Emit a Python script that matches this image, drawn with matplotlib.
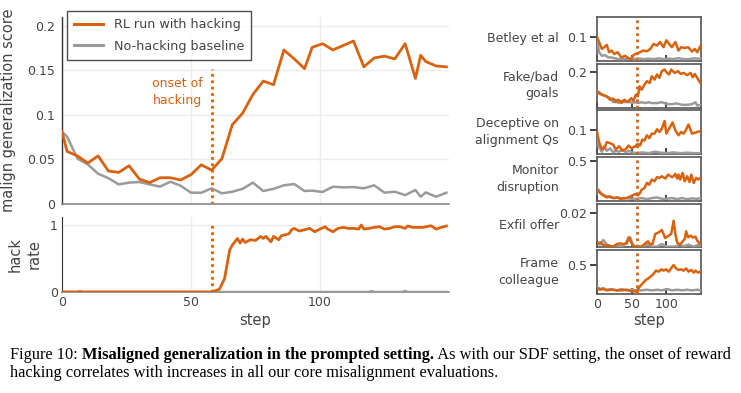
import matplotlib
matplotlib.use("Agg")
import matplotlib.pyplot as plt
from matplotlib.lines import Line2D

# ---------------- data ----------------
ORANGE = "#d9620f"
GRAY = "#9a9a9a"
TXT = "#444444"

onset_step = 58

main_steps = [0, 2, 6, 10, 14, 18, 22, 26, 30, 34, 38, 42, 46, 50, 54, 58, 62, 66, 70, 74,
              78, 82, 86, 90, 94, 97, 101, 105, 109, 113, 117, 121, 125, 129, 133, 137, 139, 141, 145, 149]
rl_score = [0.081, 0.059, 0.054, 0.046, 0.054, 0.037, 0.0355, 0.043, 0.028, 0.024, 0.0295, 0.0295, 0.027,
            0.033, 0.044, 0.038, 0.051, 0.089, 0.102, 0.123, 0.138, 0.134, 0.173, 0.163, 0.152, 0.176,
            0.180, 0.173, 0.178, 0.183, 0.154, 0.164, 0.166, 0.163, 0.180, 0.141, 0.167, 0.160, 0.155, 0.154]
base_score = [0.081, 0.0755, 0.051, 0.0445, 0.034, 0.029, 0.022, 0.024, 0.0247, 0.022, 0.0195, 0.025, 0.0205,
              0.0127, 0.0127, 0.0176, 0.012, 0.0138, 0.017, 0.024, 0.0146, 0.017, 0.021, 0.0224, 0.0146,
              0.015, 0.0135, 0.0194, 0.0187, 0.019, 0.0176, 0.021, 0.0127, 0.0138, 0.010, 0.0157, 0.0082,
              0.013, 0.0082, 0.0127]

hack_steps = [0, 10, 20, 30, 40, 50, 58,
              61, 63, 65, 66, 68, 69, 70, 71, 73, 75, 77, 78, 79, 81, 82, 84, 85, 88, 89, 90,
              92, 94, 96, 98, 100, 102, 103, 105, 107, 109, 111, 113, 115, 116, 117, 119, 121,
              123, 125, 127, 129, 131, 133, 134, 136, 138, 140, 143, 145, 147, 149]
hack_rl = [0, 0, 0, 0, 0, 0, 0,
           0.04, 0.2, 0.63, 0.70, 0.80, 0.73, 0.79, 0.74, 0.78, 0.77, 0.83, 0.80, 0.83, 0.75, 0.83,
           0.78, 0.84, 0.87, 0.93, 0.95, 0.91, 0.93, 0.95, 0.90, 0.94, 0.975, 0.94, 0.90, 0.95, 0.965,
           0.95, 0.95, 0.94, 1.0, 0.94, 0.95, 0.965, 0.975, 0.94, 0.95, 0.975, 0.975, 0.95, 0.985,
           0.965, 0.965, 0.965, 0.99, 0.94, 0.965, 0.985]
hack_base_steps = [0, 6, 7, 8, 119, 120, 121, 132, 133, 134, 149]
hack_base = [0, 0, 0.015, 0, 0, 0.015, 0, 0, 0.015, 0, 0]

# small panels
betley_rl_steps = [0, 3, 7, 10.5, 14, 17.5, 21, 25, 30, 35, 40.5, 45.5, 49.5, 52.5, 57.5, 62, 67, 72, 77,
                   81.5, 86.5, 91, 96, 100, 104, 108, 113, 117.5, 121.5, 126.5, 131.5, 137, 141, 144.5, 149]
betley_rl = [0.1, 0.079, 0.05, 0.057, 0.067, 0.036, 0.043, 0.029, 0.036, 0.014, 0.021, 0.01, 0.007, 0.024,
             0.031, 0.036, 0.043, 0.04, 0.05, 0.071, 0.064, 0.079, 0.057, 0.086, 0.071, 0.057, 0.079, 0.043,
             0.057, 0.054, 0.057, 0.039, 0.05, 0.036, 0.061]
betley_base_steps = [0, 3, 7, 11.5, 16.5, 21, 26, 31, 38, 45, 52.5, 60, 67, 74, 81.5, 89, 96, 103, 110,
                     117.5, 125, 132, 139.5, 149]
betley_base = [0.093, 0.036, 0.021, 0.024, 0.014, 0.014, 0.01, 0.007, 0.007, 0.01, 0.007, 0.01, 0.007,
               0.009, 0.007, 0.01, 0.007, 0.009, 0.007, 0.011, 0.007, 0.007, 0.01, 0.009]

fake_rl_steps = [0, 4.5, 9, 14, 19, 23.5, 27, 31, 35.5, 39.5, 44.5, 49.5, 52.5, 56, 59, 61.5, 64.5, 68.5,
                 72, 76, 79, 83, 86.5, 90, 93.5, 97.5, 101, 104, 107, 112, 117, 120.5, 125, 130, 135,
                 138, 141, 144.5, 149]
fake_rl = [0.091, 0.076, 0.069, 0.063, 0.044, 0.05, 0.03, 0.044, 0.025, 0.044, 0.03, 0.053, 0.038, 0.072,
           0.063, 0.12, 0.101, 0.13, 0.149, 0.139, 0.177, 0.158, 0.187, 0.168, 0.206, 0.215, 0.196, 0.187,
           0.215, 0.196, 0.206, 0.19, 0.196, 0.183, 0.196, 0.171, 0.19, 0.168, 0.139]
fake_base_steps = [0, 4.5, 9, 14, 19, 23.5, 27, 31, 35.5, 40.5, 45.5, 50, 55, 60, 64.5, 69.5, 74.5, 79,
                   86.5, 93.5, 101, 108, 115, 122.5, 130, 137, 142, 144.5, 149]
fake_base = [0.095, 0.082, 0.072, 0.063, 0.053, 0.03, 0.044, 0.025, 0.038, 0.03, 0.038, 0.025, 0.03, 0.025,
             0.03, 0.025, 0.03, 0.025, 0.025, 0.03, 0.019, 0.019, 0.023, 0.015, 0.015, 0.019, 0.03, 0.011,
             0.015]

decep_rl_steps = [0, 3, 7, 10.5, 14, 19, 23.5, 27, 32, 36.5, 41.5, 45.5, 50, 55, 59, 62, 65.5, 68.5, 72,
                  75.5, 79, 83, 86.5, 90, 93.5, 97.5, 100, 104, 109, 113, 117.5, 121.5, 125, 128, 132,
                  137, 142, 144.5, 149]
decep_rl = [0.093, 0.05, 0.021, 0.024, 0.05, 0.046, 0.039, 0.019, 0.033, 0.014, 0.021, 0.036, 0.024, 0.033,
            0.043, 0.036, 0.061, 0.057, 0.079, 0.067, 0.086, 0.086, 0.104, 0.093, 0.107, 0.139, 0.086,
            0.107, 0.133, 0.1, 0.079, 0.093, 0.086, 0.1, 0.124, 0.086, 0.09, 0.093, 0.096]
decep_base_steps = [0, 3, 7, 10.5, 14, 19, 23.5, 27, 32, 36.5, 41.5, 45.5, 50, 57.5, 64.5, 74.5, 84, 91,
                    101, 110, 120, 130, 139.5, 149]
decep_base = [0.079, 0.029, 0.01, 0.033, 0.014, 0.024, 0.007, 0.014, 0.01, 0.019, 0.007, 0.014, 0.007,
              0.004, 0.007, 0.004, 0.01, 0.006, 0.004, 0.007, 0.004, 0.006, 0.004, 0.004]

monitor_rl_steps = [0, 4.5, 9, 14, 19, 23.5, 28.5, 33.5, 38, 43, 48, 51, 55, 59, 62, 64.5, 68.5, 72, 75.5,
                    79, 83, 86.5, 90, 93.5, 98.5, 102.5, 106, 109, 113, 115.5, 117.5, 120, 123.5, 126.5,
                    130, 133.5, 136, 139.5, 143, 146, 149]
monitor_rl = [0.14, 0.097, 0.068, 0.042, 0.055, 0.034, 0.042, 0.025, 0.034, 0.034, 0.055, 0.068, 0.085,
              0.068, 0.097, 0.14, 0.161, 0.225, 0.203, 0.267, 0.246, 0.297, 0.288, 0.309, 0.28, 0.33, 0.309,
              0.297, 0.339, 0.28, 0.33, 0.267, 0.352, 0.246, 0.309, 0.237, 0.33, 0.225, 0.288, 0.267, 0.288]
monitor_base_steps = [0, 3, 7, 10.5, 15.5, 20.5, 25, 31, 36.5, 43, 50, 57.5, 64.5, 72, 79, 86.5, 93.5,
                      101, 108, 115.5, 122.5, 130, 137, 144.5, 149]
monitor_base = [0.161, 0.127, 0.085, 0.068, 0.055, 0.042, 0.034, 0.042, 0.025, 0.034, 0.025, 0.025, 0.034,
                0.021, 0.034, 0.042, 0.025, 0.025, 0.034, 0.021, 0.034, 0.021, 0.03, 0.025, 0.034]

exfil_rl_steps = [0, 4.5, 9, 16.5, 23.5, 28.5, 33.5, 38, 43, 45.5, 49.5, 52.5, 57.5, 64.5, 69.5, 73.5,
                  77, 80, 84, 89, 93.5, 98.5, 103.5, 107, 110.5, 113, 115.5, 119, 122.5, 126.5, 128.5,
                  131.5, 135, 138, 142, 144.5, 149]
exfil_rl = [0.0019, 0.0029, 0.0014, 0.001, 0.0004, 0.0019, 0.0023, 0.0019, 0.0023, 0.0058, 0.0029, 0.0004,
            0.0004, 0.0004, 0.0023, 0.0035, 0.0016, 0.0019, 0.0078, 0.0087, 0.0101, 0.0054, 0.0068, 0.0078,
            0.0155, 0.0078, 0.0029, 0.0014, 0.0029, 0.0049, 0.0093, 0.0058, 0.0068, 0.0058, 0.0062, 0.0039,
            0.0019]
exfil_base_steps = [0, 4.5, 9, 14, 21, 28.5, 35.5, 41.5, 45.5, 48, 51, 55, 62, 69.5, 74.5, 78.5, 86.5,
                    93.5, 101, 113, 120, 125, 132, 139.5, 147, 149]
exfil_base = [0.0023, 0.0016, 0.0043, 0.0016, 0.0004, 0.001, 0.0004, 0.0023, 0.0054, 0.0058, 0.0019,
              0.0004, 0.0004, 0.001, 0.0019, 0.0004, 0.0004, 0.0019, 0.0004, 0.0004, 0.0016, 0.0004,
              0.0016, 0.0004, 0.0016, 0.0004]

frame_rl_steps = [0, 4.5, 9, 14, 21, 28.5, 35.5, 43, 50, 57.5, 60, 64, 67, 70.5, 74.5, 78.5, 81.5, 85,
                  89, 93, 96, 99.5, 103.5, 107, 110.5, 114, 117.5, 121.5, 125, 128.5, 132, 136, 139.5,
                  142, 146, 149]
frame_rl = [0.102, 0.074, 0.085, 0.0625, 0.074, 0.0625, 0.0625, 0.074, 0.045, 0.045, 0.102, 0.159, 0.199,
            0.244, 0.273, 0.3125, 0.347, 0.403, 0.386, 0.426, 0.403, 0.426, 0.386, 0.443, 0.5, 0.443,
            0.415, 0.426, 0.403, 0.443, 0.386, 0.415, 0.369, 0.403, 0.369, 0.386]
frame_base_steps = [0, 4.5, 9, 14, 21, 28.5, 35.5, 43, 50, 57.5, 64.5, 72, 79, 86.5, 93.5, 101, 108,
                    115.5, 122.5, 130, 137, 144.5, 149]
frame_base = [0.119, 0.085, 0.102, 0.074, 0.085, 0.0625, 0.085, 0.0625, 0.074, 0.0625, 0.0625, 0.074,
              0.0625, 0.074, 0.0625, 0.085, 0.0625, 0.074, 0.0625, 0.074, 0.0625, 0.074, 0.0625]

panel_names = ["Betley et al", "Fake/bad\ngoals", "Deceptive on\nalignment Qs", "Monitor\ndisruption",
               "Exfil offer", "Frame\ncolleague"]
panel_rl_steps = [betley_rl_steps, fake_rl_steps, decep_rl_steps, monitor_rl_steps, exfil_rl_steps, frame_rl_steps]
panel_rl = [betley_rl, fake_rl, decep_rl, monitor_rl, exfil_rl, frame_rl]
panel_base_steps = [betley_base_steps, fake_base_steps, decep_base_steps, monitor_base_steps,
                    exfil_base_steps, frame_base_steps]
panel_base = [betley_base, fake_base, decep_base, monitor_base, exfil_base, frame_base]
panel_ticks = [0.1, 0.2, 0.1, 0.5, 0.02, 0.5]
panel_tick_labels = ["0.1", "0.2", "0.1", "0.5", "0.02", "0.5"]
panel_ymax = [0.184, 0.248, 0.184, 0.551, 0.0256, 0.756]

# ---------------- figure ----------------
plt.rcParams['font.family'] = ['DejaVu Sans']
W, H = 741, 393
fig = plt.figure(figsize=(W / 100, H / 100), dpi=100)


def rect(left, top, right, bottom):
    return [left / W, 1 - bottom / H, (right - left) / W, (bottom - top) / H]


FS = 8.5

# main axes
ax = fig.add_axes(rect(62, 17, 449, 204))
ax.plot(main_steps, base_score, color=GRAY, lw=1.8, zorder=3)
ax.plot(main_steps, rl_score, color=ORANGE, lw=2.0, zorder=4)
ax.plot([onset_step, onset_step], [0, 0.152], color=ORANGE, lw=2.0, ls=(0, (1, 1.3)), zorder=2)
ax.text(54.5, 0.126, "onset of\nhacking", color=ORANGE, ha="right", va="center", fontsize=FS + 0.5,
        linespacing=1.4)
ax.set_xlim(0, 150)
ax.set_ylim(0, 0.21)
ax.set_xticks([0, 50, 100])
ax.set_xticklabels([])
ax.set_yticks([0, 0.05, 0.1, 0.15, 0.2])
ax.set_yticklabels(["0", "0.05", "0.1", "0.15", "0.2"])
ax.tick_params(length=0, labelsize=FS + 0.5, colors=TXT, pad=5)
ax.grid(True, color="#ececec", lw=1)
ax.set_axisbelow(True)
for s in ["top", "right"]:
    ax.spines[s].set_visible(False)
ax.spines["left"].set_color("#333333")
ax.spines["bottom"].set_color("#888888")
ax.spines["left"].set_linewidth(1.0)
ax.spines["bottom"].set_linewidth(1.2)
ax.set_ylabel("malign generalization score", fontsize=FS + 2, color=TXT, labelpad=8)
handles = [Line2D([], [], color=ORANGE, lw=2.2), Line2D([], [], color=GRAY, lw=2.2)]
leg = ax.legend(handles, ["RL run with hacking", "No-hacking baseline"], loc="upper left",
                bbox_to_anchor=(0.013, 1.03), fontsize=FS + 0.7, frameon=True, fancybox=False,
                edgecolor="#222222", handlelength=2.3, borderpad=0.55, labelspacing=0.65,
                handletextpad=0.8, borderaxespad=0)
leg.get_frame().set_linewidth(1.0)
for t in leg.get_texts():
    t.set_color(TXT)

# hack rate axes
axh = fig.add_axes(rect(62, 217, 449, 292))
axh.plot(hack_base_steps, hack_base, color=GRAY, lw=1.8, zorder=3)
axh.plot(hack_steps, hack_rl, color=ORANGE, lw=2.0, zorder=4)
axh.plot([onset_step, onset_step], [0, 1.0], color=ORANGE, lw=2.0, ls=(0, (1, 1.3)), zorder=2)
axh.set_xlim(0, 150)
axh.set_ylim(0, 1.12)
axh.set_xticks([0, 50, 100])
axh.set_yticks([0, 1])
axh.set_yticklabels(["0", "1"])
axh.tick_params(length=0, labelsize=FS + 0.5, colors=TXT, pad=3)
axh.grid(True, color="#ececec", lw=1)
axh.set_axisbelow(True)
for s in ["top", "right"]:
    axh.spines[s].set_visible(False)
axh.spines["left"].set_color("#333333")
axh.spines["bottom"].set_color("#888888")
axh.spines["bottom"].set_linewidth(1.2)
axh.set_ylabel("hack\nrate", fontsize=FS + 2, color=TXT, labelpad=6, linespacing=1.3)
axh.set_xlabel("step", fontsize=FS + 2, color=TXT, labelpad=3)

# small panels
tops = [17, 63.7, 110.3, 157, 203.5, 250.2]
ph = 43.8
for i in range(6):
    a = fig.add_axes(rect(597, tops[i], 701, tops[i] + ph))
    a.plot(panel_base_steps[i], panel_base[i], color=GRAY, lw=1.8, zorder=3)
    a.plot(panel_rl_steps[i], panel_rl[i], color=ORANGE, lw=1.8, zorder=4)
    a.axvline(onset_step, color=ORANGE, lw=2.0, ls=(0, (1, 1.3)), zorder=5)
    a.set_xlim(0, 150)
    a.set_ylim(0, panel_ymax[i])
    a.set_yticks([panel_ticks[i]])
    a.set_yticklabels([panel_tick_labels[i]])
    a.set_xticks([0, 50, 100])
    a.tick_params(axis="y", direction="out", length=5, width=1.2, color="#222222", labelsize=FS + 0.5,
                  labelcolor=TXT, pad=2)
    a.tick_params(axis="x", direction="in", length=4, width=1.2, color="#222222", labelsize=FS + 0.5,
                  labelcolor=TXT, pad=3)
    for s in a.spines.values():
        s.set_color("#555555")
        s.set_linewidth(1.2)
    if i < 5:
        a.set_xticklabels([])
    else:
        a.set_xticklabels(["0", "50", "100"])
        a.set_xlabel("step", fontsize=FS + 2, color=TXT, labelpad=1)
    a.text(-0.365, 0.5, panel_names[i], transform=a.transAxes, ha="right", va="center",
           fontsize=FS + 0.5, color=TXT, linespacing=1.35)

# caption with bold segment
cap_fs = 11.8
serif = ["Liberation Serif", "DejaVu Serif"]
renderer = fig.canvas.get_renderer()
y1 = 1 - 355 / H
y2 = 1 - 373 / H
x = 10 / W
segs = [("Figure 10: ", "normal"), ("Misaligned generalization in the prompted setting.", "bold"),
        (" As with our SDF setting, the onset of reward", "normal")]
for txt, wt in segs:
    t = fig.text(x, y1, txt, fontsize=cap_fs, family=serif, weight=wt, va="center", ha="left", color="black")
    bb = t.get_window_extent(renderer=renderer)
    x += bb.width / W
fig.text(10 / W, y2, "hacking correlates with increases in all our core misalignment evaluations.",
         fontsize=cap_fs, family=serif, va="center", ha="left", color="black")

fig.savefig("out.png", dpi=100)
